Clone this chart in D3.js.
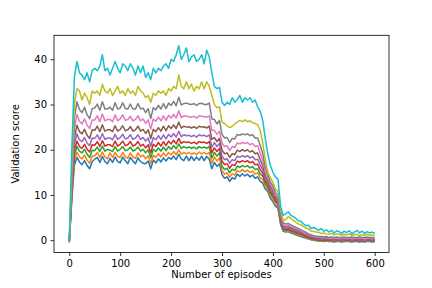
<!DOCTYPE html>
<html>
<head>
<meta charset="utf-8">
<script src="https://d3js.org/d3.v7.min.js"></script>
<style>
  body { margin: 0; background: #fff; }
  svg { display: block; font-family: "DejaVu Sans", sans-serif; }
</style>
</head>
<body>
<svg id="chart" width="432" height="288"></svg>
<script>
// episodes sampled every 5 (0..600)
const episodes = d3.range(0, 601, 5);

const xTicks = [0, 100, 200, 300, 400, 500, 600];
const yTicks = [0, 10, 20, 30, 40];

const run0 = [
  -0.5, 9.0, 16.5, 18.3, 17.3, 16.7, 17.6, 16.5, 15.8, 17.4,
  17.9, 18.3, 17.2, 18.5, 17.4, 16.9, 18.1, 17.2, 18.4, 17.4,
  17.1, 18.4, 17.6, 16.9, 18.3, 17.5, 16.9, 18.2, 17.4, 17.0,
  16.9, 17.5, 15.8, 17.7, 17.1, 18.0, 17.3, 18.2, 17.5, 18.3,
  17.9, 18.6, 17.8, 19.0, 18.0, 17.6, 18.6, 17.6, 18.5, 17.6,
  18.4, 17.7, 18.6, 17.6, 18.5, 17.9, 15.8, 17.2, 16.3, 16.9,
  14.5, 13.7, 14.0, 13.0, 13.8, 13.5, 14.6, 14.1, 14.7, 14.2,
  14.6, 14.0, 14.4, 13.7, 14.0, 13.0, 12.6, 11.3, 10.7, 9.3,
  8.5, 7.5, 7.0, 3.5, 2.0, 1.8, 1.9, 1.6, 1.4, 1.2,
  1.0, 0.8, 0.6, 0.4, 0.3, 0.1, 0.0, -0.1, -0.2, -0.2,
  -0.3, -0.2, -0.3, -0.3, -0.4, -0.3, -0.3, -0.4, -0.3, -0.3,
  -0.3, -0.4, -0.3, -0.3, -0.4, -0.3, -0.4, -0.3, -0.3, -0.4,
  -0.3
];
const run1 = [
  -0.4, 9.5, 17.5, 19.4, 18.4, 18.0, 18.8, 17.7, 17.0, 18.6,
  18.6, 19.4, 18.3, 19.5, 18.4, 18.0, 19.3, 18.3, 19.4, 18.5,
  18.3, 19.4, 18.5, 18.1, 19.3, 18.4, 18.1, 19.3, 18.4, 18.8,
  18.0, 18.7, 16.9, 18.8, 18.3, 19.1, 18.4, 19.3, 18.6, 19.4,
  18.9, 19.6, 18.9, 20.0, 19.0, 19.4, 19.1, 19.4, 19.0, 19.3,
  18.9, 19.5, 19.1, 19.4, 19.0, 19.4, 17.0, 18.4, 17.5, 18.2,
  15.4, 14.6, 14.9, 13.9, 14.7, 14.4, 15.4, 15.1, 15.6, 15.1,
  15.5, 15.0, 15.3, 14.6, 14.9, 13.8, 13.4, 11.8, 11.2, 9.8,
  9.0, 8.0, 7.5, 4.0, 2.2, 2.0, 2.1, 1.8, 1.6, 1.4,
  1.2, 1.0, 0.8, 0.5, 0.4, 0.2, 0.1, 0.0, -0.1, -0.1,
  -0.2, -0.1, -0.2, -0.2, -0.3, -0.2, -0.2, -0.3, -0.2, -0.2,
  -0.2, -0.3, -0.2, -0.2, -0.3, -0.2, -0.3, -0.2, -0.2, -0.3,
  -0.2
];
const run2 = [
  -0.4, 10.0, 18.7, 20.7, 19.7, 19.3, 20.1, 19.0, 18.3, 19.9,
  19.8, 20.6, 19.6, 20.8, 19.7, 20.1, 19.9, 19.6, 20.7, 19.7,
  20.1, 20.7, 19.8, 20.0, 20.6, 19.7, 20.0, 20.6, 19.7, 20.1,
  19.3, 20.0, 18.2, 20.1, 19.6, 20.4, 19.7, 20.6, 19.8, 20.7,
  20.1, 20.9, 20.2, 21.3, 20.3, 20.7, 20.4, 20.6, 20.3, 20.6,
  20.2, 20.7, 20.4, 20.6, 20.3, 20.7, 18.2, 19.4, 18.6, 19.3,
  16.4, 15.6, 15.9, 14.9, 15.7, 15.4, 16.4, 16.1, 16.5, 16.2,
  16.5, 16.0, 16.3, 15.6, 15.8, 14.6, 14.2, 12.4, 11.7, 10.3,
  9.5, 8.5, 8.0, 4.3, 2.4, 2.2, 2.3, 2.0, 1.8, 1.6,
  1.4, 1.2, 1.0, 0.7, 0.5, 0.3, 0.2, 0.1, 0.0, 0.0,
  -0.1, 0.0, -0.1, -0.1, -0.2, -0.1, -0.1, -0.2, -0.1, -0.1,
  -0.1, -0.2, -0.1, -0.1, -0.2, -0.1, -0.2, -0.1, -0.1, -0.2,
  -0.1
];
const run3 = [
  -0.3, 10.5, 19.8, 21.9, 20.7, 20.3, 21.2, 20.1, 19.5, 21.1,
  21.0, 21.8, 20.7, 22.0, 20.8, 21.1, 21.1, 20.7, 21.9, 20.8,
  21.2, 21.9, 20.9, 21.1, 21.8, 20.8, 21.1, 21.8, 20.8, 21.2,
  20.4, 21.1, 19.3, 21.2, 20.7, 21.6, 20.8, 21.8, 20.9, 21.9,
  21.3, 22.1, 21.3, 22.5, 21.4, 21.8, 21.6, 21.7, 21.4, 21.7,
  21.3, 21.8, 21.6, 21.7, 21.4, 21.8, 19.3, 20.4, 19.6, 20.3,
  17.5, 16.7, 16.9, 15.9, 16.7, 16.5, 17.5, 17.2, 17.6, 17.3,
  17.6, 17.1, 17.4, 16.7, 16.8, 15.6, 14.8, 13.0, 12.2, 10.8,
  10.0, 8.8, 8.3, 4.6, 2.6, 2.4, 2.5, 2.2, 2.0, 1.8,
  1.6, 1.4, 1.1, 0.8, 0.6, 0.4, 0.3, 0.2, 0.1, 0.1,
  0.0, 0.1, 0.0, 0.0, -0.1, 0.0, 0.0, -0.1, 0.0, 0.0,
  0.0, -0.1, 0.0, 0.0, -0.1, 0.0, -0.1, 0.0, 0.0, -0.1,
  0.0
];
const run4 = [
  -0.3, 11.0, 21.0, 23.5, 22.2, 21.8, 22.7, 21.5, 20.9, 22.6,
  22.5, 23.3, 22.2, 23.6, 22.3, 22.6, 22.6, 22.2, 23.4, 22.3,
  22.7, 23.4, 22.4, 22.6, 23.3, 22.3, 22.6, 23.3, 22.3, 22.7,
  21.9, 22.6, 20.7, 22.7, 22.2, 23.1, 22.3, 23.3, 22.4, 23.4,
  22.8, 23.6, 22.8, 24.1, 22.9, 23.3, 23.1, 23.2, 22.9, 23.2,
  22.8, 23.3, 23.1, 23.2, 22.9, 23.3, 20.6, 21.6, 20.7, 21.4,
  18.6, 17.8, 18.0, 17.0, 17.8, 17.6, 18.6, 18.3, 18.7, 18.4,
  18.7, 18.2, 18.5, 17.8, 17.9, 16.6, 15.6, 13.6, 12.7, 11.3,
  10.5, 9.2, 8.7, 4.9, 2.8, 2.6, 2.7, 2.4, 2.2, 2.0,
  1.8, 1.6, 1.3, 1.0, 0.8, 0.6, 0.4, 0.3, 0.2, 0.2,
  0.1, 0.2, 0.1, 0.1, 0.0, 0.1, 0.1, 0.0, 0.1, 0.1,
  0.1, 0.0, 0.1, 0.1, 0.0, 0.1, 0.0, 0.1, 0.1, 0.0,
  0.1
];
const run5 = [
  -0.2, 12.0, 22.5, 25.4, 24.0, 23.5, 24.5, 23.2, 22.5, 24.4,
  24.3, 25.2, 24.0, 25.5, 24.1, 24.4, 24.4, 24.0, 25.3, 24.1,
  24.5, 25.3, 24.2, 24.4, 25.1, 24.1, 24.4, 25.2, 24.1, 24.5,
  23.6, 24.4, 22.5, 24.5, 24.0, 24.9, 24.1, 25.2, 24.2, 25.3,
  24.7, 25.5, 24.7, 26.1, 24.8, 25.2, 25.0, 25.1, 24.8, 25.1,
  24.7, 25.2, 25.0, 25.1, 24.8, 25.2, 22.3, 22.7, 21.8, 22.5,
  19.9, 19.1, 19.3, 18.3, 19.1, 18.9, 19.9, 19.6, 20.0, 19.7,
  20.0, 19.5, 19.8, 19.1, 19.3, 17.8, 16.5, 14.3, 13.2, 11.8,
  11.0, 9.6, 9.0, 5.2, 3.1, 2.9, 3.0, 2.7, 2.5, 2.3,
  2.1, 1.8, 1.5, 1.2, 1.0, 0.8, 0.6, 0.5, 0.4, 0.4,
  0.3, 0.4, 0.3, 0.3, 0.2, 0.3, 0.3, 0.2, 0.3, 0.3,
  0.2, 0.3, 0.3, 0.2, 0.3, 0.2, 0.3, 0.3, 0.2, 0.3,
  0.2
];
const run6 = [
  -0.2, 13.0, 24.5, 27.8, 26.3, 25.7, 26.8, 25.4, 24.7, 26.6,
  26.6, 27.5, 26.2, 27.9, 26.4, 26.7, 26.7, 26.2, 27.7, 26.4,
  26.8, 27.7, 26.5, 26.7, 27.4, 26.4, 26.7, 27.5, 26.4, 26.8,
  25.8, 26.6, 24.6, 26.8, 26.3, 27.2, 26.4, 27.5, 26.5, 27.6,
  27.0, 27.8, 27.0, 28.6, 27.1, 27.5, 27.4, 27.3, 27.2, 27.4,
  27.0, 27.5, 27.4, 27.3, 27.2, 27.5, 24.3, 24.3, 23.4, 24.1,
  21.5, 20.7, 20.9, 19.8, 20.7, 20.5, 21.5, 21.3, 21.6, 21.4,
  21.6, 21.1, 21.4, 20.7, 20.9, 19.3, 17.7, 15.0, 13.8, 12.3,
  11.5, 10.0, 9.5, 5.6, 3.4, 3.2, 3.3, 3.0, 2.8, 2.5,
  2.3, 2.0, 1.7, 1.4, 1.2, 1.0, 0.8, 0.7, 0.6, 0.6,
  0.5, 0.6, 0.4, 0.5, 0.4, 0.5, 0.4, 0.4, 0.5, 0.4,
  0.4, 0.5, 0.4, 0.4, 0.5, 0.4, 0.4, 0.5, 0.4, 0.4,
  0.4
];
const run7 = [
  -0.2, 14.0, 27.0, 30.6, 28.9, 28.2, 29.4, 27.7, 26.9, 29.1,
  29.2, 30.1, 28.7, 30.6, 29.0, 29.0, 29.4, 28.7, 30.4, 29.0,
  29.2, 30.4, 29.1, 29.0, 30.1, 29.0, 29.0, 30.2, 29.0, 29.2,
  28.2, 29.1, 26.9, 29.3, 28.8, 29.8, 29.0, 30.2, 29.1, 30.3,
  29.8, 30.7, 29.7, 31.6, 29.9, 30.2, 30.3, 30.1, 30.0, 30.2,
  29.8, 30.2, 30.3, 30.0, 30.0, 30.3, 26.8, 26.7, 25.7, 26.5,
  23.4, 22.6, 22.7, 21.6, 22.5, 22.4, 23.4, 23.2, 23.5, 23.3,
  23.5, 23.1, 23.3, 22.6, 22.6, 21.0, 19.2, 16.0, 14.5, 12.8,
  12.0, 10.5, 10.0, 6.0, 3.8, 3.6, 3.7, 3.4, 3.1, 2.8,
  2.6, 2.3, 2.0, 1.7, 1.4, 1.2, 1.0, 0.9, 0.8, 0.8,
  0.7, 0.8, 0.6, 0.7, 0.6, 0.7, 0.6, 0.6, 0.7, 0.6,
  0.6, 0.7, 0.6, 0.6, 0.7, 0.6, 0.6, 0.7, 0.6, 0.6,
  0.6
];
const run8 = [
  -0.5, 16.0, 30.0, 33.5, 33.0, 31.0, 32.5, 31.5, 30.0, 33.0,
  32.5, 33.0, 32.0, 34.5, 33.0, 32.5, 33.5, 32.0, 33.0, 34.0,
  32.5, 33.0, 32.0, 33.5, 32.5, 33.0, 32.0, 34.0, 33.0, 32.5,
  31.5, 32.0, 30.5, 32.5, 32.0, 33.0, 32.5, 33.0, 32.0, 33.5,
  33.0, 34.0, 33.5, 36.5, 34.0, 33.5, 35.0, 33.5, 34.5, 33.0,
  34.0, 33.5, 35.0, 33.5, 35.0, 34.0, 32.0, 30.0, 29.3, 29.5,
  26.1, 25.8, 25.3, 24.9, 25.2, 25.7, 26.1, 26.5, 26.2, 26.6,
  26.2, 26.4, 26.0, 25.8, 25.5, 24.3, 21.5, 17.8, 15.0, 13.8,
  12.8, 11.3, 10.8, 6.8, 4.3, 4.6, 5.2, 4.8, 4.4, 4.0,
  3.6, 3.4, 3.0, 2.7, 2.5, 2.0, 1.9, 1.8, 1.7, 1.5,
  1.6, 1.4, 1.3, 1.5, 1.2, 1.4, 1.3, 1.1, 1.3, 1.2,
  1.4, 1.1, 1.2, 1.3, 1.0, 1.2, 1.1, 1.3, 1.1, 1.2,
  1.0
];
const run9 = [
  -0.3, 20.0, 36.0, 39.5, 37.0, 36.5, 35.5, 37.0, 35.0, 37.5,
  38.0, 37.5, 38.5, 41.0, 37.5, 38.0, 36.5, 38.0, 39.5, 38.0,
  37.0, 39.0, 38.5, 37.5, 39.0, 38.0, 36.5, 38.5, 37.0, 38.5,
  36.0, 37.0, 35.5, 38.0, 37.0, 38.0, 37.5, 38.5, 39.0, 38.0,
  40.0, 39.5, 41.0, 43.0, 40.0, 41.0, 42.5, 39.5, 40.5, 41.0,
  39.5, 40.0, 41.0, 39.0, 42.0, 40.5, 37.0, 34.0, 33.5, 33.8,
  30.5, 29.8, 30.5, 30.0, 31.5, 30.5, 31.0, 32.0, 30.5, 31.5,
  31.0, 31.5, 30.5, 31.0, 29.5, 28.5, 26.5, 22.5, 19.0, 16.5,
  15.0, 14.0, 13.5, 7.5, 5.5, 5.8, 6.3, 5.5, 5.2, 4.8,
  4.3, 4.2, 3.6, 3.2, 3.3, 2.6, 2.8, 2.5, 2.2, 2.6,
  2.0, 2.3, 1.8, 2.2, 1.6, 2.1, 1.9, 1.5, 2.0, 1.7,
  2.1, 1.4, 1.8, 2.2, 1.6, 2.0, 1.5, 1.9, 1.6, 1.8,
  1.5
];

const runs = [run0, run1, run2, run3, run4, run5, run6, run7, run8, run9];
const colors = d3.schemeCategory10;

const width = 432;
const height = 288;
const margin = { top: 35.3, right: 43, bottom: 35.5, left: 54 };
const innerWidth = width - margin.left - margin.right;
const innerHeight = height - margin.top - margin.bottom;

const svg = d3.select("#chart");
const g = svg
  .append("g")
  .attr("transform", `translate(${margin.left}, ${margin.top})`);

const x = d3.scaleLinear().domain([-30, 628]).range([0, innerWidth]);
const y = d3.scaleLinear().domain([-2.72, 45.3]).range([innerHeight, 0]);

const line = d3
  .line()
  .x((d, i) => x(episodes[i]))
  .y((d) => y(d));

// lines, first run drawn first so cyan ends on top
g.selectAll(".run")
  .data(runs)
  .enter()
  .append("path")
  .attr("class", "run")
  .attr("d", line)
  .attr("fill", "none")
  .attr("stroke", (d, i) => colors[i])
  .attr("stroke-width", 1.5)
  .attr("stroke-linejoin", "round");

// axes in matplotlib style
const xAxis = g
  .append("g")
  .attr("transform", `translate(0, ${innerHeight})`)
  .call(d3.axisBottom(x).tickValues(xTicks).tickSize(3.5).tickPadding(3.5));

const yAxis = g
  .append("g")
  .call(d3.axisLeft(y).tickValues(yTicks).tickSize(3.5).tickPadding(3.5));

[xAxis, yAxis].forEach((ax) => {
  ax.select(".domain").remove();
  ax.attr("font-family", "DejaVu Sans").attr("font-size", 10);
  ax.selectAll(".tick line").attr("stroke", "#000").attr("stroke-width", 0.8);
  ax.selectAll(".tick text").attr("fill", "#000");
});

// frame
g.append("rect")
  .attr("x", 0)
  .attr("y", 0)
  .attr("width", innerWidth)
  .attr("height", innerHeight)
  .attr("fill", "none")
  .attr("stroke", "#000")
  .attr("stroke-width", 0.8);

// axis labels
svg.append("text")
  .attr("x", margin.left + innerWidth / 2)
  .attr("y", 278)
  .attr("text-anchor", "middle")
  .style("font-size", "10px")
  .text("Number of episodes");

svg.append("text")
  .attr("transform", `translate(19, ${margin.top + innerHeight / 2}) rotate(-90)`)
  .attr("text-anchor", "middle")
  .style("font-size", "10px")
  .text("Validation score");
</script>
</body>
</html>
